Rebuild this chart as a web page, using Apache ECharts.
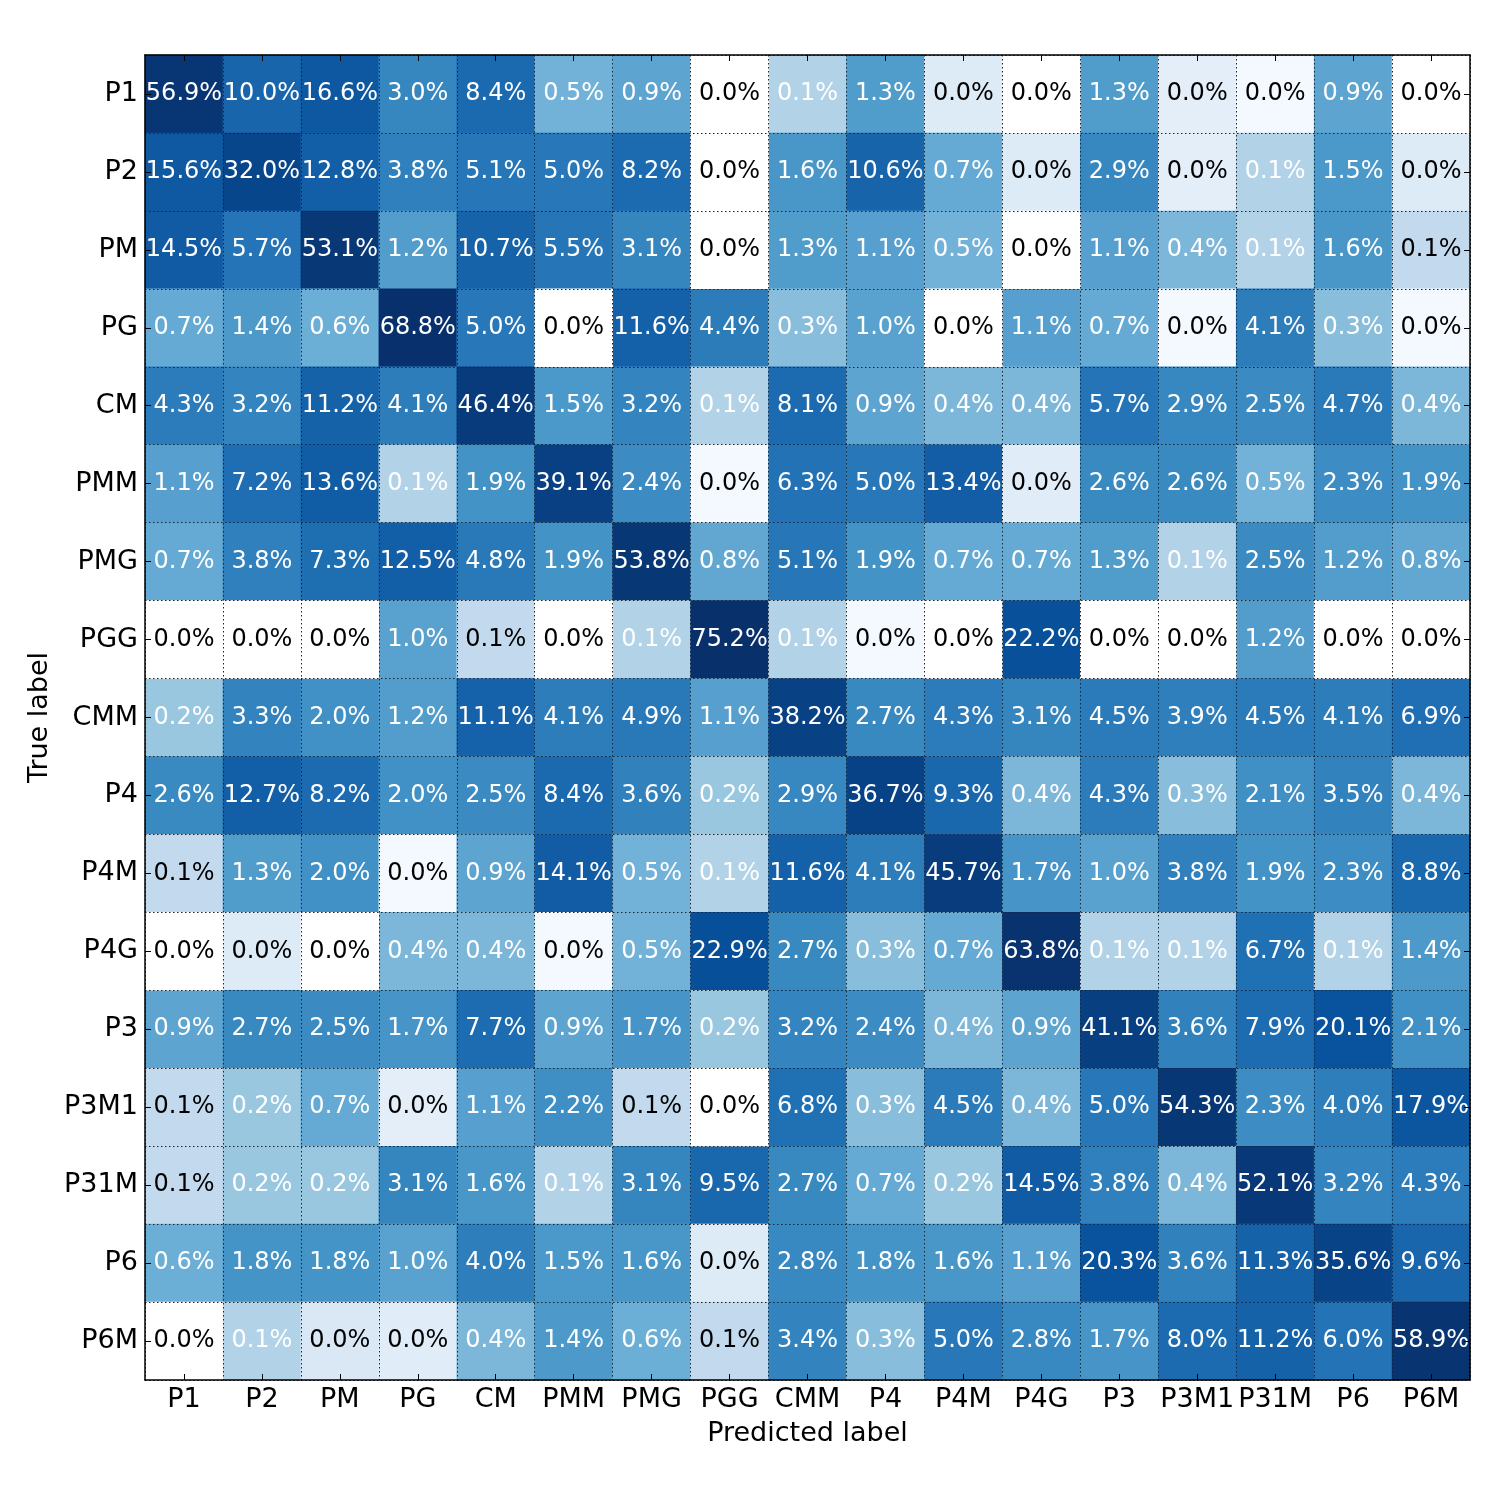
<!DOCTYPE html>
<html>
<head>
<meta charset="utf-8">
<script src="https://cdn.jsdelivr.net/npm/echarts@6/dist/echarts.min.js"></script>
<style>
  html, body { margin: 0; padding: 0; background: #fff; }
  #chart { width: 1500px; height: 1500px; }
</style>
</head>
<body>
<div id="chart"></div>
<script>
const labels = ['P1', 'P2', 'PM', 'PG', 'CM', 'PMM', 'PMG', 'PGG', 'CMM',
  'P4', 'P4M', 'P4G', 'P3', 'P3M1', 'P31M', 'P6', 'P6M'];

// rows = true label, columns = predicted label (percent of row)
// cells shown as 0.0% keep a small estimate where the picture is tinted
const rowP1 = [56.9, 10.0, 16.6, 3.0, 8.4, 0.5, 0.9, 0, 0.1, 1.3, 0.017, 0, 1.3, 0.013, 0.006, 0.9, 0];
const rowP2 = [15.6, 32.0, 12.8, 3.8, 5.1, 5.0, 8.2, 0, 1.6, 10.6, 0.7, 0.017, 2.9, 0.013, 0.1, 1.5, 0.017];
const rowPM = [14.5, 5.7, 53.1, 1.2, 10.7, 5.5, 3.1, 0, 1.3, 1.1, 0.5, 0, 1.1, 0.4, 0.1, 1.6, 0.06];
const rowPG = [0.7, 1.4, 0.6, 68.8, 5.0, 0, 11.6, 4.4, 0.3, 1.0, 0, 1.1, 0.7, 0.006, 4.1, 0.3, 0.006];
const rowCM = [4.3, 3.2, 11.2, 4.1, 46.4, 1.5, 3.2, 0.1, 8.1, 0.9, 0.4, 0.4, 5.7, 2.9, 2.5, 4.7, 0.4];
const rowPMM = [1.1, 7.2, 13.6, 0.1, 1.9, 39.1, 2.4, 0.006, 6.3, 5.0, 13.4, 0.015, 2.6, 2.6, 0.5, 2.3, 1.9];
const rowPMG = [0.7, 3.8, 7.3, 12.5, 4.8, 1.9, 53.8, 0.8, 5.1, 1.9, 0.7, 0.7, 1.3, 0.1, 2.5, 1.2, 0.8];
const rowPGG = [0, 0, 0, 1.0, 0.06, 0, 0.1, 75.2, 0.1, 0.006, 0, 22.2, 0, 0, 1.2, 0, 0];
const rowCMM = [0.2, 3.3, 2.0, 1.2, 11.1, 4.1, 4.9, 1.1, 38.2, 2.7, 4.3, 3.1, 4.5, 3.9, 4.5, 4.1, 6.9];
const rowP4 = [2.6, 12.7, 8.2, 2.0, 2.5, 8.4, 3.6, 0.2, 2.9, 36.7, 9.3, 0.4, 4.3, 0.3, 2.1, 3.5, 0.4];
const rowP4M = [0.06, 1.3, 2.0, 0.006, 0.9, 14.1, 0.5, 0.1, 11.6, 4.1, 45.7, 1.7, 1.0, 3.8, 1.9, 2.3, 8.8];
const rowP4G = [0, 0.017, 0, 0.4, 0.4, 0.006, 0.5, 22.9, 2.7, 0.3, 0.7, 63.8, 0.1, 0.1, 6.7, 0.1, 1.4];
const rowP3 = [0.9, 2.7, 2.5, 1.7, 7.7, 0.9, 1.7, 0.2, 3.2, 2.4, 0.4, 0.9, 41.1, 3.6, 7.9, 20.1, 2.1];
const rowP3M1 = [0.06, 0.2, 0.7, 0.013, 1.1, 2.2, 0.06, 0, 6.8, 0.3, 4.5, 0.4, 5.0, 54.3, 2.3, 4.0, 17.9];
const rowP31M = [0.06, 0.2, 0.2, 3.1, 1.6, 0.1, 3.1, 9.5, 2.7, 0.7, 0.2, 14.5, 3.8, 0.4, 52.1, 3.2, 4.3];
const rowP6 = [0.6, 1.8, 1.8, 1.0, 4.0, 1.5, 1.6, 0.017, 2.8, 1.8, 1.6, 1.1, 20.3, 3.6, 11.3, 35.6, 9.6];
const rowP6M = [0, 0.1, 0.02, 0.015, 0.4, 1.4, 0.6, 0.06, 3.4, 0.3, 5.0, 2.8, 1.7, 8.0, 11.2, 6.0, 58.9];

const matrix = [rowP1, rowP2, rowPM, rowPG, rowCM, rowPMM, rowPMG, rowPGG, rowCMM,
  rowP4, rowP4M, rowP4G, rowP3, rowP3M1, rowP31M, rowP6, rowP6M];

const LOG_MIN = -2.3;
const LOG_MAX = 1.845;
const blues = ['#f7fbff', '#deebf7', '#c6dbef', '#9ecae1', '#6baed6',
  '#4292c6', '#2171b5', '#08519c', '#08306b'];

// nonzero cells go through the log colour scale, exact zeros stay white
const cells = [];
const zeroCells = [];
matrix.forEach((row, r) => {
  row.forEach((v, c) => {
    if (v > 0) {
      cells.push({
        value: [c, r, v, Math.max(LOG_MIN, Math.log10(v))],
        label: { color: v >= 0.095 ? '#fff' : '#000' }
      });
    } else {
      zeroCells.push([c, r, v]);
    }
  });
});

const font = 'DejaVu Sans';
const frameLine = { show: true, onZero: false, lineStyle: { color: '#000', width: 1.5 } };
const tick = { show: true, inside: true, alignWithLabel: true, length: 6, lineStyle: { color: '#000' } };
const dotted = { show: true, lineStyle: { color: '#222', type: [1.5, 2.5], width: 1 } };
const cellLabel = {
  show: true,
  fontFamily: font,
  fontSize: 24,
  formatter: p => p.value[2].toFixed(1) + '%'
};

const chart = echarts.init(document.getElementById('chart'));
chart.setOption({
  animation: false,
  backgroundColor: '#fff',
  grid: { left: 145, top: 55, width: 1325, height: 1325 },
  xAxis: [
    {
      type: 'category', data: labels, position: 'bottom', z: 10,
      name: 'Predicted label', nameLocation: 'middle', nameGap: 40,
      nameTextStyle: { fontFamily: font, fontSize: 27, color: '#000' },
      axisLine: frameLine, axisTick: tick, splitLine: dotted,
      axisLabel: { fontFamily: font, fontSize: 27, color: '#000', margin: 6, interval: 0 }
    },
    {
      type: 'category', data: labels, position: 'top', z: 10,
      axisLine: frameLine, axisTick: tick, axisLabel: { show: false }, splitLine: { show: false }
    }
  ],
  yAxis: [
    {
      type: 'category', data: labels, inverse: true, position: 'left', z: 10,
      name: 'True label', nameLocation: 'middle', nameGap: 90, nameRotate: 90,
      nameTextStyle: { fontFamily: font, fontSize: 27, color: '#000' },
      axisLine: frameLine, axisTick: tick, splitLine: dotted,
      axisLabel: { fontFamily: font, fontSize: 27, color: '#000', margin: 7, interval: 0 }
    },
    {
      type: 'category', data: labels, inverse: true, position: 'right', z: 10,
      axisLine: frameLine, axisTick: tick, axisLabel: { show: false }, splitLine: { show: false }
    }
  ],
  visualMap: {
    show: false,
    type: 'continuous',
    seriesIndex: 0,
    dimension: 3,
    min: LOG_MIN,
    max: LOG_MAX,
    inRange: { color: blues }
  },
  series: [
    {
      type: 'heatmap',
      data: cells,
      label: cellLabel
    },
    {
      type: 'heatmap',
      data: zeroCells,
      itemStyle: { color: '#fff' },
      label: Object.assign({}, cellLabel, { color: '#000' })
    }
  ]
});
</script>
</body>
</html>
